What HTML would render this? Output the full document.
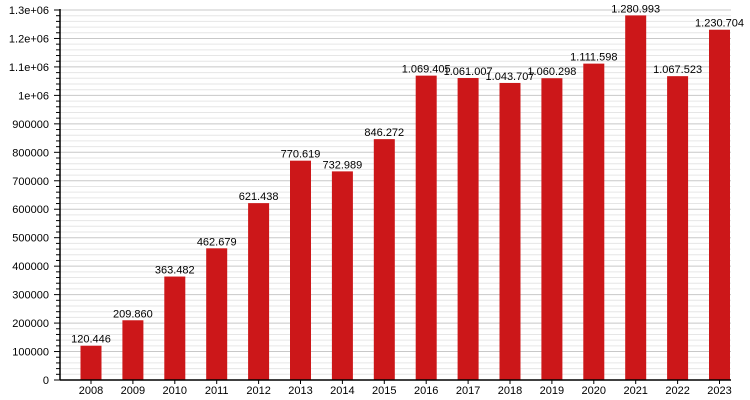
<!DOCTYPE html>
<html><head><meta charset="utf-8"><style>
html,body{margin:0;padding:0;background:#fff;width:750px;height:400px;overflow:hidden}
svg{display:block;font-family:"Liberation Sans",sans-serif}
</style></head><body>
<svg id="c" width="750" height="400" xmlns="http://www.w3.org/2000/svg"></svg>
<script>
const s=document.getElementById('c');
let h='';
const y0=380,k=370/1.3e6,xl=60,xr=731;
for(let v=0;v<=1300000;v+=20000){
  const y=y0-v*k; const major=v%100000===0;
  if(v>0) h+=`<line x1="${xl}" x2="${xr}" y1="${y}" y2="${y}" stroke="${major?'#c8c8c8':'#e6e6e6'}" stroke-width="1"/>`;
  h+=`<line x1="${major?54:56}" x2="${xl}" y1="${y}" y2="${y}" stroke="#000" stroke-width="1"/>`;
  if(major){let t=v>=1000000?(v===1000000?'1e+06':(v/1e6).toFixed(1)+'e+06'):String(v);
    h+=`<text x="49" y="${y+4}" font-size="11" text-anchor="end">${t}</text>`;}
}
const d=[120446,209860,363482,462679,621438,770619,732989,846272,1069405,1061007,1043707,1060298,1111598,1280993,1067523,1230704];
const lab=['120.446','209.860','363.482','462.679','621.438','770.619','732.989','846.272','1.069.405','1.061.007','1.043.707','1.060.298','1.111.598','1.280.993','1.067.523','1.230.704'];
d.forEach((v,i)=>{const c=91+41.9*i,y=y0-v*k;
  h+=`<rect x="${c-10.5}" y="${y}" width="21" height="${y0-y}" fill="#cc1719"/>`;
  h+=`<text x="${c}" y="${y-3}" font-size="11" text-anchor="middle">${lab[i]}</text>`;
  h+=`<line x1="${c}" x2="${c}" y1="${y0}" y2="${y0+4}" stroke="#000"/>`;
  h+=`<text x="${c}" y="${y0+14}" font-size="11" text-anchor="middle">${2008+i}</text>`;
});
h+=`<line x1="${xl}" x2="${xl}" y1="9" y2="${y0}" stroke="#000" stroke-width="1.5"/>`;
h+=`<line x1="${xl}" x2="${xr}" y1="${y0}" y2="${y0}" stroke="#000" stroke-width="1.5"/>`;
s.innerHTML=h;
</script>
</body></html>
